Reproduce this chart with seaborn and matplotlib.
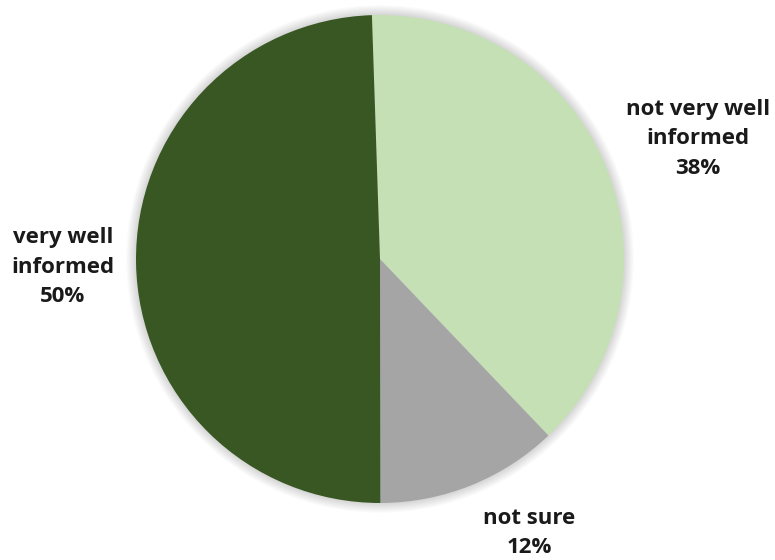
import numpy as np
import pandas as pd
import seaborn as sns
import matplotlib.pyplot as plt
from matplotlib.patches import Circle

# Data
categories = ['not very well\ninformed', 'not sure', 'very well\ninformed']
shares = [38.4, 12.1, 49.5]
pct_labels = ['38%', '12%', '50%']
colors = ['#c5e0b4', '#a5a5a5', '#385723']

df = pd.DataFrame({'category': categories, 'share': shares, 'pct': pct_labels})

sns.set_theme(style='white')
plt.rcParams['font.family'] = ['Open Sans', 'DejaVu Sans']

fig = plt.figure(figsize=(7.75, 5.6), dpi=100)
ax = fig.add_axes([(380 - 244) / 775, (560 - 259 - 244) / 560, 488 / 775, 488 / 560])

# soft shadow behind the pie
for i in range(8):
    ax.add_patch(Circle((0, 0.0), 1.0 + 0.005 * (8 - i), color='black',
                        alpha=0.02, lw=0, zorder=0, clip_on=False))

ax.pie(df['share'], colors=colors, startangle=91.9, counterclock=False,
       wedgeprops={'linewidth': 0, 'zorder': 2, 'clip_on': False})

# label positions (pie data units)
label_pos = [(1.303, 0.492), (0.611, -1.123), (-1.30, -0.033)]
for (x, y), cat, pct in zip(label_pos, df['category'], df['pct']):
    ax.text(x, y, f'{cat}\n{pct}', ha='center', va='center', fontsize=16,
            fontweight='bold', color='#1a1a1a', linespacing=1.55,
            clip_on=False)

ax.set_xlim(-1, 1)
ax.set_ylim(-1, 1)
ax.set_aspect('equal')
ax.axis('off')

fig.savefig('out.png', dpi=100)
